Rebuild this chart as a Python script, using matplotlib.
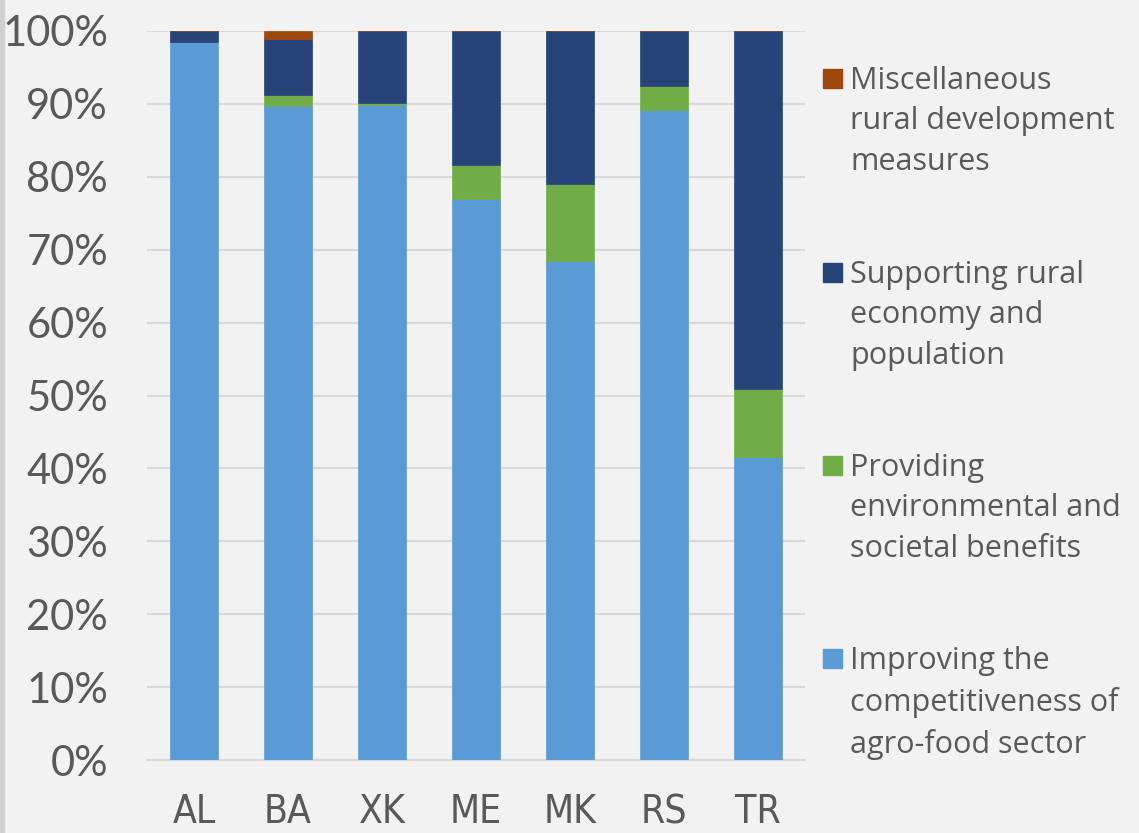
import numpy as np
import matplotlib.pyplot as plt
from matplotlib.patches import Rectangle

countries = ['AL', 'BA', 'XK', 'ME', 'MK', 'RS', 'TR']
improving = [98.5, 89.7, 89.8, 76.9, 68.4, 89.1, 41.6]
providing = [0.0, 1.5, 0.3, 4.7, 10.6, 3.4, 9.3]
supporting = [1.5, 7.7, 9.9, 18.4, 21.0, 7.5, 49.1]
misc = [0.0, 1.1, 0.0, 0.0, 0.0, 0.0, 0.0]

labels = ['Improving the\ncompetitiveness of\nagro-food sector',
          'Providing\nenvironmental and\nsocietal benefits',
          'Supporting rural\neconomy and\npopulation',
          'Miscellaneous\nrural development\nmeasures']
colors = ['#5b9bd5', '#70ad47', '#264478', '#9e480e']

bg = '#f2f2f2'
txt = '#595959'

fig = plt.figure(figsize=(11.39, 8.33), dpi=100, facecolor=bg)
ax = fig.add_axes([147 / 1139, 1 - 760 / 833, 658 / 1139, 729 / 833])
ax.set_facecolor(bg)

# left grey strip
fig.patches.append(Rectangle((0, 0), 4 / 1139, 1, transform=fig.transFigure,
                             color='#d0d0d0', zorder=0))

x = np.arange(len(countries))
series = [improving, providing, supporting, misc]
bottom = np.zeros(len(countries))
for vals, c in zip(series, colors):
    ax.bar(x, vals, bottom=bottom, width=0.51, color=c, zorder=3,
           edgecolor=c, linewidth=0.5)
    bottom += np.array(vals)

ax.set_xlim(-0.5, len(countries) - 0.5)
ax.set_ylim(0, 100)
ax.set_yticks(np.arange(0, 101, 10))
ax.set_yticklabels([f'{v}%' for v in range(0, 101, 10)])
ax.set_xticks(x)
ax.set_xticklabels(countries)
ax.yaxis.grid(True, color='#d9d9d9', linewidth=1.5, zorder=0)
for s in ['top', 'right', 'left']:
    ax.spines[s].set_visible(False)
ax.spines['bottom'].set_color('#d9d9d9')
ax.spines['bottom'].set_linewidth(1.5)
ax.tick_params(length=0)
for t in ax.get_yticklabels():
    t.set_fontsize(30)
    t.set_color(txt)
    t.set_family(['Lato', 'DejaVu Sans'])
for t in ax.get_xticklabels():
    t.set_fontsize(28)
    t.set_color(txt)
    t.set_family(['DejaVu Sans'])
    t.set_stretch('condensed')
ax.tick_params(axis='y', pad=28)
ax.tick_params(axis='x', pad=24)

# legend, drawn by hand in reverse order
tops = [66, 260, 453, 646]
for i, (lab, c) in enumerate(zip(labels[::-1], colors[::-1])):
    yy = tops[i]
    fig.patches.append(Rectangle((823 / 1139, 1 - (yy + 22) / 833), 19 / 1139, 19 / 833,
                                 transform=fig.transFigure, color=c))
    fig.text(850 / 1139, 1 - yy / 833, lab, fontsize=22, color=txt,
             family=['Open Sans', 'DejaVu Sans'], va='top', ha='left',
             linespacing=1.45)

fig.savefig('out.png', dpi=100, facecolor=bg)
